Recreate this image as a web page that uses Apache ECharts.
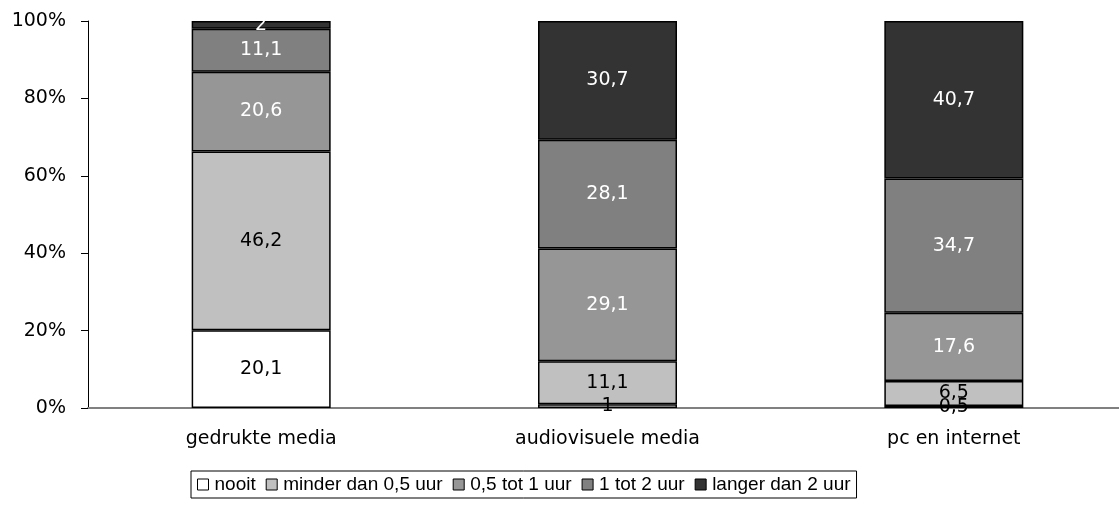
<!DOCTYPE html>
<html>
<head>
<meta charset="utf-8">
<script src="https://cdn.jsdelivr.net/npm/echarts@6/dist/echarts.min.js"></script>
<style>
  html, body { margin: 0; padding: 0; background: #fff; }
  #main { width: 1119px; height: 517px; }
</style>
</head>
<body>
<div id="main"></div>
<script>
const categories = ['gedrukte media', 'audiovisuele media', 'pc en internet'];
const seriesNames = ['nooit', 'minder dan 0,5 uur', '0,5 tot 1 uur', '1 tot 2 uur', 'langer dan 2 uur'];
const nooit = [20.1, 1, 0.5];
const minder = [46.2, 11.1, 6.5];
const halfToOne = [20.6, 29.1, 17.6];
const oneToTwo = [11.1, 28.1, 34.7];
const langer = [2, 30.7, 40.7];
const yTicks = [0, 20, 40, 60, 80, 100];

const colors = ['#ffffff', '#c0c0c0', '#969696', '#808080', '#333333'];
const labelColors = ['#000', '#000', '#fff', '#fff', '#fff'];
const values = [nooit, minder, halfToOne, oneToTwo, langer];
const font = '"DejaVu Sans", sans-serif';
const legendFont = '"Liberation Sans", Arial, sans-serif';

let chart = echarts.init(document.getElementById('main'), null, { renderer: 'canvas' });

let option = {
  animation: false,
  color: colors,
  textStyle: { fontFamily: font },
  grid: {
    left: 88,
    right: -8,
    top: 21,
    bottom: 109,
    outerBoundsMode: 'none'
  },
  legend: {
    data: seriesNames,
    left: 191,
    top: 471,
    icon: 'rect',
    itemWidth: 11,
    itemHeight: 11,
    itemGap: 10,
    padding: [4, 6, 4, 6],
    borderColor: '#000',
    borderWidth: 1,
    itemStyle: { borderColor: '#000', borderWidth: 1 },
    textStyle: { fontFamily: legendFont, fontSize: 19, color: '#000', padding: [0, 0, 0, 1] }
  },
  xAxis: {
    type: 'category',
    data: categories,
    axisLine: { lineStyle: { color: '#808080', width: 2 } },
    axisTick: { length: 8, lineStyle: { color: '#808080' } },
    axisLabel: { margin: 22, fontFamily: font, fontSize: 19, color: '#000' }
  },
  yAxis: {
    type: 'value',
    min: yTicks[0],
    max: yTicks[yTicks.length - 1],
    interval: 20,
    splitLine: { show: false },
    axisLine: { show: true, lineStyle: { color: '#000', width: 1 } },
    axisTick: { show: true, length: 7, lineStyle: { color: '#000' } },
    axisLabel: { margin: 22, fontFamily: font, fontSize: 19, color: '#000', formatter: '{value}%' }
  },
  series: seriesNames.map(function (name, i) {
    return {
      name: name,
      type: 'bar',
      stack: 'total',
      barWidth: 139,
      data: values[i],
      itemStyle: { color: colors[i], borderColor: '#000', borderWidth: 1.5 },
      label: {
        show: true,
        position: 'inside',
        color: labelColors[i],
        fontFamily: font,
        fontSize: 19,
        formatter: function (p) {
          return String(p.value).replace('.', ',');
        }
      }
    };
  })
};

chart.setOption(option);
</script>
</body>
</html>
